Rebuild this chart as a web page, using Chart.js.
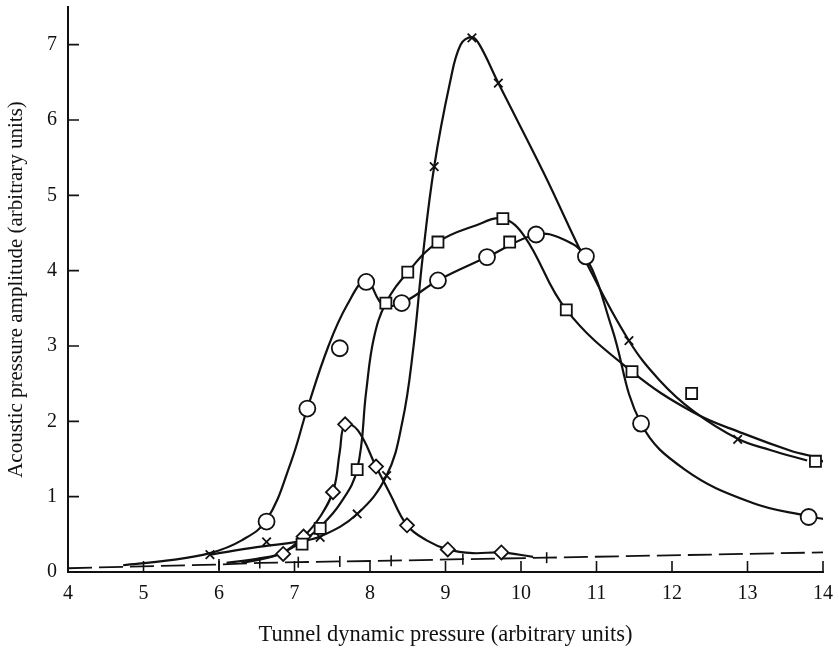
<!DOCTYPE html>
<html>
<head>
<meta charset="utf-8">
<script src="https://cdn.jsdelivr.net/npm/chart.js@4.4.1/dist/chart.umd.min.js"></script>
<style>
  html, body { margin: 0; padding: 0; background: #fff; }
  #wrap { width: 839px; height: 649px; position: relative; }
</style>
</head>
<body>
<div id="wrap"><canvas id="c" width="839" height="649"></canvas></div>
<script>
// ---- tick labels ----
const xTicks = [4, 5, 6, 7, 8, 9, 10, 11, 12, 13, 14];
const yTicks = [0, 1, 2, 3, 4, 5, 6, 7];

// ---- circles (measured points) ----
const circleX = [6.63, 7.17, 7.6, 7.95, 8.42, 8.9, 9.55, 10.2, 10.86, 11.59, 13.81];
const circleY = [0.67, 2.17, 2.97, 3.85, 3.57, 3.87, 4.18, 4.48, 4.19, 1.97, 0.73];
// circles (drawn curve)
const circleCurveX = [4.73, 5.3, 5.88, 6.3, 6.63, 6.95, 7.17, 7.45, 7.7, 7.95, 8.17, 8.42, 8.9, 9.55, 10.2, 10.55, 10.86, 11.2, 11.59, 12.17, 13.06, 13.81, 14.03];
const circleCurveY = [0.09, 0.15, 0.25, 0.42, 0.69, 1.45, 2.17, 3.0, 3.55, 3.87, 3.55, 3.57, 3.87, 4.18, 4.48, 4.42, 4.18, 3.25, 1.97, 1.36, 0.92, 0.74, 0.70];

// ---- squares ----
const squareX = [7.1, 7.34, 7.83, 8.21, 8.5, 8.9, 9.76, 9.85, 10.6, 11.47, 12.26, 13.9];
const squareY = [0.37, 0.58, 1.36, 3.57, 3.98, 4.38, 4.69, 4.38, 3.48, 2.66, 2.37, 1.47];
const squareCurveX = [6.3, 6.75, 7.1, 7.34, 7.6, 7.83, 7.95, 8.05, 8.21, 8.5, 8.9, 9.4, 9.76, 10.05, 10.6, 11.47, 12.28, 12.94, 13.6, 13.9, 14.1];
const squareCurveY = [0.12, 0.22, 0.4, 0.6, 0.9, 1.36, 2.4, 3.1, 3.57, 3.98, 4.38, 4.6, 4.69, 4.45, 3.48, 2.66, 2.12, 1.84, 1.6, 1.52, 1.4];

// ---- crosses ----
const crossX = [5.88, 6.63, 7.34, 7.83, 8.22, 8.85, 9.35, 9.7, 11.43, 12.87];
const crossY = [0.23, 0.40, 0.46, 0.77, 1.28, 5.38, 7.09, 6.49, 3.07, 1.76];
const crossCurveX = [5.88, 6.5, 7.03, 7.34, 7.83, 8.22, 8.43, 8.57, 8.7, 8.85, 9.06, 9.2, 9.35, 9.45, 9.7, 10.3, 10.87, 11.43, 11.84, 12.28, 12.87, 13.3, 13.79];
const crossCurveY = [0.23, 0.33, 0.4, 0.47, 0.77, 1.28, 2.0, 2.94, 4.2, 5.38, 6.5, 7.0, 7.1, 7.0, 6.49, 5.3, 4.1, 3.07, 2.54, 2.14, 1.77, 1.62, 1.48];

// ---- diamonds ----
const diamondX = [6.85, 7.12, 7.51, 7.67, 8.08, 8.49, 9.03, 9.74];
const diamondY = [0.24, 0.47, 1.06, 1.96, 1.40, 0.62, 0.30, 0.26];
const diamondCurveX = [6.1, 6.54, 6.85, 7.12, 7.35, 7.52, 7.6, 7.67, 7.84, 8.08, 8.26, 8.49, 8.75, 9.03, 9.36, 9.74, 10.16];
const diamondCurveY = [0.12, 0.18, 0.26, 0.47, 0.75, 1.1, 1.6, 1.96, 1.88, 1.4, 1.05, 0.62, 0.42, 0.3, 0.25, 0.26, 0.2];

// ---- dashed base line with vertical marks ----
const baseX = [4, 6.0, 6.54, 7.05, 7.6, 8.28, 9.23, 10.34, 14];
const baseY = [0.05, 0.1, 0.12, 0.13, 0.14, 0.15, 0.17, 0.19, 0.26];
const baseMarked = [false, true, true, true, true, true, true, true, false];

const pts = (xs, ys) => xs.map((x, i) => ({ x: x, y: ys[i] }));
const INK = '#111';
const FONT = 'Liberation Serif';

function curve(xs, ys) {
  return {
    data: pts(xs, ys), showLine: true, pointRadius: 0, borderColor: INK,
    borderWidth: 2.2, tension: 0.4, order: 2
  };
}
function markers(xs, ys, style, r, rot) {
  return {
    data: pts(xs, ys), showLine: false, pointStyle: style, pointRadius: r,
    pointRotation: rot || 0, pointBackgroundColor: '#fff', pointBorderColor: INK,
    pointBorderWidth: 1.8, order: 1, clip: false
  };
}

const inwardTicks = {
  id: 'inwardTicks',
  afterDraw(chart) {
    const { ctx, chartArea, scales } = chart;
    ctx.save();
    ctx.strokeStyle = INK;
    ctx.lineWidth = 1.6;
    ctx.beginPath();
    xTicks.forEach(v => {
      if (v === xTicks[0]) return;
      const px = scales.x.getPixelForValue(v);
      ctx.moveTo(px, chartArea.bottom);
      ctx.lineTo(px, chartArea.bottom - 11);
    });
    yTicks.forEach(v => {
      if (v === yTicks[0]) return;
      const py = scales.y.getPixelForValue(v);
      ctx.moveTo(chartArea.left, py);
      ctx.lineTo(chartArea.left + 11, py);
    });
    ctx.stroke();
    ctx.restore();
  }
};

new Chart(document.getElementById('c'), {
  type: 'scatter',
  data: {
    datasets: [
      markers(circleX, circleY, 'circle', 8),
      markers(squareX, squareY, 'rect', 7.8),
      markers(crossX, crossY, 'crossRot', 6),
      markers(diamondX, diamondY, 'rectRot', 7),
      curve(circleCurveX, circleCurveY),
      curve(squareCurveX, squareCurveY),
      curve(crossCurveX, crossCurveY),
      curve(diamondCurveX, diamondCurveY),
      {
        data: pts(baseX, baseY), showLine: true, borderColor: INK, borderWidth: 1.8,
        borderDash: [24, 7], pointStyle: 'line', pointRotation: 90,
        pointRadius: baseMarked.map(m => m ? 5.5 : 0), pointBorderColor: INK,
        pointBorderWidth: 1.6, tension: 0, order: 3
      }
    ]
  },
  options: {
    responsive: false,
    animation: false,
    devicePixelRatio: 1,
    layout: { autoPadding: false, padding: { left: 0, right: 16, top: 7, bottom: 0 } },
    plugins: { legend: { display: false }, tooltip: { enabled: false } },
    scales: {
      x: {
        type: 'linear', min: 4, max: 14,
        afterBuildTicks: s => { s.ticks = xTicks.map(v => ({ value: v })); },
        afterFit: s => { s.height = 77; s.paddingLeft = 0; s.paddingRight = 0; },
        grid: { display: false },
        border: { display: true, color: INK, width: 2 },
        ticks: { color: INK, font: { family: FONT, size: 20 }, padding: 2, maxRotation: 0 },
        title: { display: true, text: 'Tunnel dynamic pressure (arbitrary units)', color: INK,
                 font: { family: FONT, size: 22.5 }, padding: { top: 0, bottom: 0 } }
      },
      y: {
        type: 'linear', min: 0, max: 7.5,
        afterBuildTicks: s => { s.ticks = yTicks.map(v => ({ value: v })); },
        afterFit: s => { s.width = 68; s.paddingTop = 0; s.paddingBottom = 0; },
        grid: { display: false },
        border: { display: true, color: INK, width: 2 },
        ticks: { color: INK, font: { family: FONT, size: 20 }, padding: 3 },
        title: { display: true, text: 'Acoustic pressure amplitude (arbitrary units)', color: INK,
                 font: { family: FONT, size: 21 }, padding: { top: 4, bottom: 0 } }
      }
    }
  },
  plugins: [inwardTicks]
});
</script>
</body>
</html>
